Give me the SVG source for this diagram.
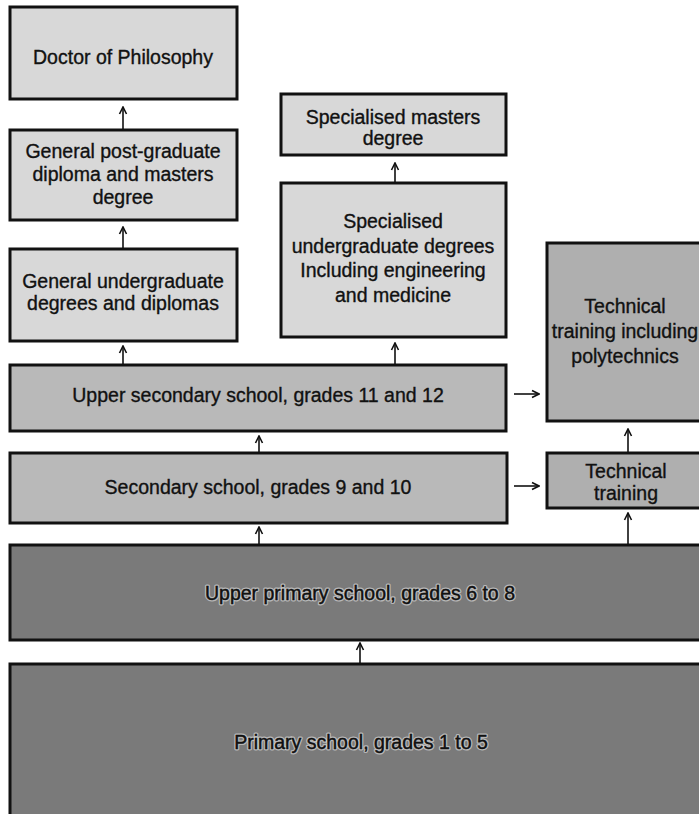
<svg xmlns="http://www.w3.org/2000/svg" width="699" height="814" viewBox="0 0 699 814">
<style>
.box{stroke:#111;stroke-width:3}
.l{fill:#d8d8d8}
.m{fill:#b9b9b9}
.t{fill:#afafaf}
.d{fill:#7a7a7a}
text{font-family:"Liberation Sans",Arial,sans-serif;font-size:19.5px;fill:#111;text-anchor:middle;stroke:#111;stroke-width:0.35}
.halo{stroke:#eee;stroke-width:3;stroke-opacity:0.55;stroke-linejoin:round}
.c{stroke:#111;stroke-width:1.6;fill:none}
</style>
<defs>
<marker id="ah" viewBox="0 0 10 10" refX="9" refY="5" markerWidth="10" markerHeight="10" markerUnits="userSpaceOnUse" orient="auto">
<polyline points="2,1.5 9,5 2,8.5" fill="none" stroke="#111" stroke-width="1.6"/>
</marker>
</defs>
<rect width="699" height="814" fill="#fff"/>
<g id="phd"><rect class="box l" x="10" y="7" width="227" height="92"/><text x="123" y="64">Doctor of Philosophy</text></g>
<g id="postgrad"><rect class="box l" x="10" y="130" width="227" height="90"/><text x="123" y="158">General post-graduate</text><text x="123" y="181">diploma and masters</text><text x="123" y="204">degree</text></g>
<g id="gen-ug"><rect class="box l" x="10" y="249" width="227" height="92"/><text x="123" y="288">General undergraduate</text><text x="123" y="310">degrees and diplomas</text></g>
<g id="spec-masters"><rect class="box l" x="281" y="94" width="225" height="61"/><text x="393" y="124">Specialised masters</text><text x="393" y="145">degree</text></g>
<g id="spec-ug"><rect class="box l" x="281" y="183" width="225" height="154"/><text x="393" y="228">Specialised</text><text x="393" y="253">undergraduate degrees</text><text x="393" y="277">Including engineering</text><text x="393" y="302">and medicine</text></g>
<g id="tech-poly"><rect class="box t" x="547" y="243" width="165" height="178"/><text x="625" y="313">Technical</text><text x="625" y="338">training including</text><text x="625" y="363">polytechnics</text></g>
<g id="upper-sec"><rect class="box m" x="10" y="365" width="496" height="66"/><text x="258" y="402">Upper secondary school, grades 11 and 12</text></g>
<g id="sec"><rect class="box m" x="10" y="453" width="497" height="70"/><text x="258" y="494">Secondary school, grades 9 and 10</text></g>
<g id="tech"><rect class="box t" x="547" y="453" width="165" height="55"/><text x="626" y="478">Technical</text><text x="626" y="500">training</text></g>
<g id="upper-primary"><rect class="box d" x="10" y="545" width="700" height="95"/><text class="halo" x="360" y="600">Upper primary school, grades 6 to 8</text><text x="360" y="600">Upper primary school, grades 6 to 8</text></g>
<g id="primary"><rect class="box d" x="10" y="664" width="700" height="160"/><text class="halo" x="361" y="749">Primary school, grades 1 to 5</text><text x="361" y="749">Primary school, grades 1 to 5</text></g>
<g id="connectors">
<line class="c" x1="123" y1="129" x2="123" y2="107" marker-end="url(#ah)"/>
<line class="c" x1="123" y1="248" x2="123" y2="227" marker-end="url(#ah)"/>
<line class="c" x1="123" y1="364" x2="123" y2="346" marker-end="url(#ah)"/>
<line class="c" x1="395" y1="182" x2="395" y2="163" marker-end="url(#ah)"/>
<line class="c" x1="395" y1="364" x2="395" y2="343" marker-end="url(#ah)"/>
<line class="c" x1="259" y1="452" x2="259" y2="436" marker-end="url(#ah)"/>
<line class="c" x1="628" y1="452" x2="628" y2="429" marker-end="url(#ah)"/>
<line class="c" x1="259" y1="544" x2="259" y2="527" marker-end="url(#ah)"/>
<line class="c" x1="628" y1="544" x2="628" y2="513" marker-end="url(#ah)"/>
<line class="c" x1="360" y1="663" x2="360" y2="643" marker-end="url(#ah)"/>
<line class="c" x1="514" y1="394" x2="539" y2="394" marker-end="url(#ah)"/>
<line class="c" x1="514" y1="486" x2="539" y2="486" marker-end="url(#ah)"/>
</g>
</svg>
